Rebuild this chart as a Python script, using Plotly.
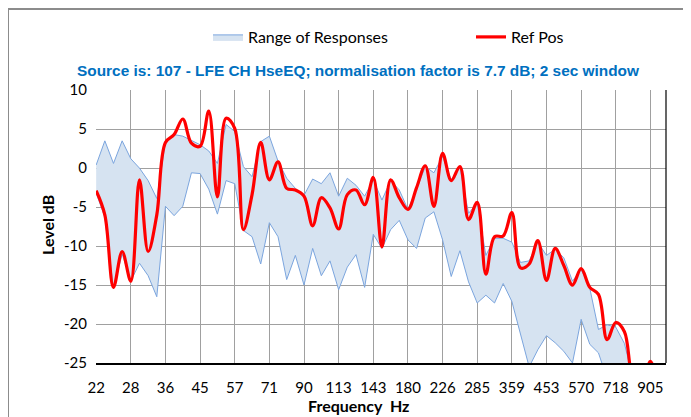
import math
import plotly.graph_objects as go

# 1/12-octave frequency grid starting at 22.4 Hz (index k = 0..65)
n_points = 66
freqs = [22.4 * 2 ** (k / 12) for k in range(n_points)]

tick_labels = ["22", "28", "36", "45", "57", "71", "90", "113", "143", "180",
               "226", "285", "359", "453", "570", "718", "905"]
tick_freqs = [freqs[4 * i] for i in range(len(tick_labels))]

ref_pos = [-2.9, -6.0, -15.3, -10.7, -14.5, -1.5, -10.7, -6.0, 3.3, 4.3,
           6.3, 3.2, 2.8, 7.3, -3.7, 6.4, 5.1, -7.9, -3.4, 3.3,
           -1.5, 0.8, -2.6, -2.8, -3.6, -7.4, -3.8, -5.1, -7.8, -3.4,
           -2.8, -4.7, -1.2, -10.1, -1.5, -3.8, -5.3, -2.5, 0.3, -4.9,
           1.9, -1.6, 0.2, -6.6, -4.4, -13.6, -8.8, -8.7, -5.7, -12.8,
           -12.3, -9.3, -14.4, -10.3, -12.5, -15.0, -12.9, -15.3, -16.2, -22.0,
           -19.8, -21.0, -27.0, -28.0, -24.8, -28.0]

range_max = [0.4, 3.5, 0.6, 3.5, 1.2, 0.0, -1.6, -3.9, 3.4, 4.3,
             4.1, 3.5, 3.0, 2.2, 0.6, 5.6, 4.7, 0.2, -1.1, 3.4,
             4.1, 0.9, -1.3, -2.6, -3.5, -1.4, -2.0, -0.6, -3.6, -1.3,
             -2.2, -3.6, -1.5, -4.1, -1.6, -2.8, -5.3, -2.7, 0.2, -0.6,
             1.5, -1.5, 0.1, -5.8, -4.5, -11.2, -9.0, -9.0, -9.5, -12.1,
             -11.9, -9.5, -11.2, -10.4, -11.5, -14.5, -13.0, -15.4, -20.7, -20.1,
             -20.4, -22.5, -27.0, -28.0, -28.0, -28.0]

range_min = [-3.2, -6.3, -15.5, -11.0, -14.5, -12.2, -13.8, -16.5, -4.9, -6.1,
             -4.9, -0.6, -0.7, -2.7, -5.9, -1.6, -2.0, -8.0, -8.8, -12.3,
             -7.0, -8.8, -14.3, -11.2, -15.0, -10.3, -13.8, -11.9, -15.6, -12.7,
             -11.1, -15.3, -8.5, -10.3, -7.9, -6.7, -9.2, -10.3, -6.4, -5.6,
             -9.2, -13.9, -10.6, -14.6, -17.3, -16.3, -17.3, -14.8, -17.1, -21.2,
             -25.5, -23.3, -21.5, -22.4, -23.5, -25.0, -19.4, -22.6, -23.7, -27.0,
             -28.0, -28.0, -28.0, -28.0, -28.0, -28.0]

band_line = "#7BA5DE"
band_fill = "#D6E3F1"

fig = go.Figure()
fig.add_trace(go.Scatter(x=freqs, y=range_min, mode="lines",
                         line=dict(color=band_line, width=1),
                         showlegend=False, hoverinfo="skip"))
fig.add_trace(go.Scatter(x=freqs, y=range_max, mode="lines", fill="tonexty",
                         fillcolor=band_fill,
                         line=dict(color=band_line, width=1),
                         name="Range of Responses", legend="legend"))
fig.add_trace(go.Scatter(x=freqs, y=ref_pos, mode="lines",
                         line=dict(color="#FF0000", width=3.2, shape="spline", smoothing=1.0),
                         name="Ref Pos", legend="legend2"))

x_lo = math.log10(freqs[0]) - 0.0005
x_hi = math.log10(22.4 * 2 ** (65.8 / 12))

# page body has an 8px margin; work in window pixels and convert
OFF = 8
W, H = 691 - OFF, 417 - OFF
PL, PR, PT, PB = 96, 666, 90, 363  # plot area in window pixels
PW, PH = PR - PL, PB - PT


def px(x):
    return (x - PL) / PW


def py(y):
    return (PB - y) / PH


grid_col = "#A0A0A0"
leg_font = dict(family="Lato", size=16, color="#000000")
fig.update_layout(
    width=W, height=H,
    margin=dict(l=PL - OFF, r=691 - PR, t=PT - OFF, b=417 - PB,
                autoexpand=False),
    paper_bgcolor="white", plot_bgcolor="white",
    font=dict(family="Lato", size=15, color="#000000"),
    title=dict(text="<b>Source is: 107 - LFE CH HseEQ; normalisation factor is 7.7 dB; 2 sec window</b>",
               font=dict(family="Liberation Sans", size=15.4, color="#0070C0"),
               x=px(358), xanchor="center", xref="paper",
               y=1 - (71 - OFF) / H, yref="container", yanchor="middle"),
    legend=dict(orientation="h", x=px(208), xanchor="left", y=py(37), yanchor="middle",
                font=leg_font, bgcolor="rgba(0,0,0,0)"),
    legend2=dict(orientation="h", x=px(471), xanchor="left", y=py(37), yanchor="middle",
                 font=leg_font, bgcolor="rgba(0,0,0,0)"),
    showlegend=True,
)
fig.update_xaxes(type="log", range=[x_lo, x_hi],
                 tickmode="array", tickvals=tick_freqs, ticktext=tick_labels,
                 showgrid=True, gridcolor=grid_col, gridwidth=1,
                 showline=True, linecolor="#000000", linewidth=1.5,
                 ticks="", ticklabelstandoff=10,
                 tickfont=dict(family="Lato", size=15))
fig.update_yaxes(range=[-25, 10.02], tickmode="array",
                 tickvals=[10, 5, 0, -5, -10, -15, -20, -25],
                 ticktext=["10", "5", "0", "-5", "-10", "-15", "-20", "-25"],
                 showgrid=True, gridcolor=grid_col, gridwidth=1,
                 zeroline=False, showline=False, ticks="", ticklabelstandoff=8,
                 tickfont=dict(family="Lato", size=15))

# right border of plot area and outer chart border (left and top edges visible)
fig.add_shape(type="line", xref="paper", yref="paper", x0=1, x1=1, y0=0, y1=1,
              line=dict(color="#000000", width=1.2))
fig.add_shape(type="line", xref="paper", yref="paper",
              x0=px(8), x1=px(8), y0=py(430), y1=py(8),
              line=dict(color="#8C8C8C", width=2), layer="above")
fig.add_shape(type="line", xref="paper", yref="paper",
              x0=px(8), x1=px(720), y0=py(9), y1=py(9),
              line=dict(color="#8C8C8C", width=2), layer="above")

fig.add_annotation(text="<b>Frequency  Hz</b>", xref="paper", yref="paper",
                   x=px(358), y=py(406), showarrow=False,
                   xanchor="center", yanchor="middle",
                   font=dict(family="Lato", size=16, color="#000000"))
fig.add_annotation(text="<b>Level dB</b>", xref="paper", yref="paper",
                   x=px(47), y=py(225), showarrow=False,
                   textangle=-90, xanchor="center", yanchor="middle",
                   font=dict(family="Lato", size=16, color="#000000"))

fig.write_html("out.html")
